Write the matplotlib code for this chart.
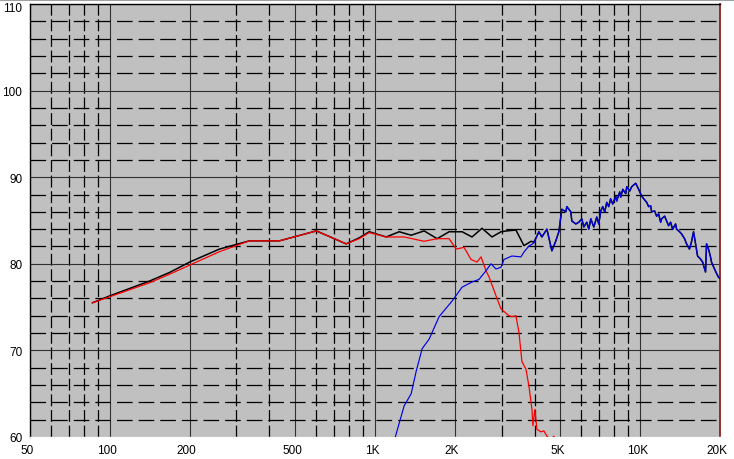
import matplotlib
matplotlib.use('Agg')
import matplotlib.pyplot as plt
from matplotlib.ticker import FixedLocator, NullFormatter, FixedFormatter
from matplotlib.transforms import ScaledTranslation
from matplotlib.lines import Line2D

# ---- data ----
# summed response (black) up to where it merges with the tweeter curve
sum_freq = [86, 100, 141, 168, 200, 259, 336, 436, 601, 779, 872, 951, 1102,
            1234, 1369, 1532, 1715, 1903, 2130, 2322, 2533, 2762, 2986, 3145,
            3400, 3644, 3880, 3974]
sum_db = [75.5, 76.3, 78.0, 79.0, 80.2, 81.7, 82.65, 82.65, 83.8, 82.3, 83.0,
          83.7, 83.1, 83.7, 83.3, 83.8, 82.9, 83.7, 83.7, 83.1, 84.1, 83.1,
          83.7, 83.8, 83.9, 82.1, 82.6, 82.5]

# woofer (red)
woofer_freq = [86, 100, 141, 168, 200, 259, 336, 436, 601, 779, 872, 951, 1102,
               1288, 1532, 1715, 1903, 2022, 2167, 2302, 2425, 2511, 2622,
               2691, 2860, 2986, 3200, 3284, 3400, 3490, 3582, 3708, 3805,
               3907, 3940, 4008, 4079, 4222, 4334, 4449, 4600, 4726, 4900]
woofer_db = [75.5, 76.2, 77.8, 78.8, 79.85, 81.4, 82.65, 82.65, 83.8, 82.3,
             82.9, 83.6, 83.1, 83.1, 82.6, 82.9, 82.9, 81.7, 81.9, 80.5, 80.2,
             80.8, 79.2, 78.5, 76.3, 74.8, 74.0, 73.9, 74.0, 72.1, 68.7, 67.85,
             65.9, 63.2, 61.3, 63.2, 60.9, 60.6, 60.7, 60.1, 59.6, 60.1, 58.5]

# tweeter (blue)
tweeter_freq = [1180, 1288, 1369, 1430, 1506, 1600, 1745, 1953, 2130, 2322,
                2467, 2622, 2738, 2860, 2986, 3064, 3284, 3551, 3644, 3805,
                3974, 4150, 4260, 4449, 4645, 4808, 4935, 5065, 5245, 5289,
                5476, 5523, 5719, 5869, 6024, 6128, 6290, 6400, 6512, 6684,
                6860, 6979, 7101, 7225, 7352, 7480, 7611, 7735, 7879, 8089,
                8157, 8372, 8445, 8596, 8821, 8899, 9129, 9289, 9617, 9870,
                10131, 10579, 10763, 10952, 11047, 11338, 11536, 11738, 11943,
                12049, 12364, 12580, 12800, 13024, 13252, 13600, 13719, 14079,
                14327, 14703, 14961, 15338, 15604, 15895, 16179, 16459, 16890,
                17192, 17641, 17797, 18102, 18418, 18578, 19067, 19401, 19739,
                20000]
tweeter_db = [59.5, 63.6, 65.0, 67.6, 70.2, 71.3, 73.9, 75.7, 77.3, 77.9,
              78.2, 79.2, 80.0, 79.4, 79.6, 80.5, 80.9, 80.8, 81.35, 82.05,
              82.4, 83.7, 83.1, 84.0, 81.5, 82.65, 83.7, 86.3, 86.0, 86.6,
              86.0, 84.95, 84.6, 84.8, 85.2, 84.25, 84.8, 84.0, 85.2, 84.25,
              85.4, 84.6, 86.1, 86.6, 86.0, 87.1, 86.6, 87.5, 86.9, 87.8,
              87.25, 88.3, 87.7, 88.6, 88.1, 88.9, 88.4, 88.9, 89.3, 88.6,
              87.8, 87.1, 86.6, 86.7, 86.0, 86.1, 85.5, 85.75, 84.8,
              85.2, 85.5, 84.95, 84.4, 84.8, 84.0, 84.6, 84.0, 83.7,
              83.45, 82.9, 82.3, 81.7, 82.5, 83.7, 82.3, 80.9, 80.55,
              80.2, 79.05, 82.3, 81.7, 80.8, 80.2, 79.4, 78.9, 78.45,
              78.3]

x_major = [50, 100, 200, 500, 1000, 2000, 5000, 10000, 20000]
x_labels = ['50', '100', '200', '500', '1K', '2K', '5K', '10K', '20K']
x_minor = [60, 70, 80, 90, 300, 400, 600, 700, 800, 900, 3000, 4000,
           6000, 7000, 8000, 9000]
y_major = [60, 70, 80, 90, 100, 110]
y_labels = ['60', '70', '80', '90', '100', '110']
y_minor = [62, 64, 66, 68, 72, 74, 76, 78, 82, 84, 86, 88, 92, 94, 96, 98,
           102, 104, 106, 108]

# ---- figure ----
W, H = 734, 460
fig = plt.figure(figsize=(W / 100, H / 100), dpi=100)
fig.patch.set_facecolor('white')
ax = fig.add_axes([30 / W, 22 / H, 690 / W, 433 / H])
ax.set_facecolor('#C0C0C0')
ax.set_xscale('log')
ax.set_xlim(50, 20000)
ax.set_ylim(60, 110)

ax.xaxis.set_major_locator(FixedLocator(x_major))
ax.xaxis.set_major_formatter(FixedFormatter(x_labels))
ax.xaxis.set_minor_locator(FixedLocator(x_minor))
ax.xaxis.set_minor_formatter(NullFormatter())
ax.yaxis.set_major_locator(FixedLocator(y_major))
ax.yaxis.set_major_formatter(FixedFormatter(y_labels))
ax.yaxis.set_minor_locator(FixedLocator(y_minor))
ax.yaxis.set_minor_formatter(NullFormatter())

ax.set_axisbelow(True)
ax.xaxis.grid(True, which='major', color='#303030', lw=0.8, ls='-')
ax.yaxis.grid(True, which='major', color='#303030', lw=0.8, ls='-')
ax.xaxis.grid(True, which='minor', color='black', lw=0.9, ls=(0, (9.5, 3.0)))
ax.yaxis.grid(True, which='minor', color='black', lw=0.9, ls=(0, (12.5, 4.8)))

ax.tick_params(which='both', length=0)
ax.tick_params(axis='x', pad=5, labelsize=8.5)
ax.tick_params(axis='y', pad=5.5, labelsize=8.5)
for lab in ax.get_xticklabels() + ax.get_yticklabels():
    lab.set_fontfamily('Liberation Sans')
for lab in ax.get_xticklabels():
    lab.set_transform(lab.get_transform() + ScaledTranslation(-3 / 100, 0, fig.dpi_scale_trans))
ylabs = ax.get_yticklabels()
ylabs[-1].set_transform(ylabs[-1].get_transform() + ScaledTranslation(0, -2.5 / 100, fig.dpi_scale_trans))

# curves
sum_full_freq = sum_freq + [f for f in tweeter_freq if f >= 4150]
sum_full_db = sum_db + [d for f, d in zip(tweeter_freq, tweeter_db) if f >= 4150]
ax.plot(sum_full_freq, sum_full_db, color='black', lw=1.1, zorder=3)
ax.plot(woofer_freq, woofer_db, color='#FF0000', lw=0.9, zorder=4)
ax.plot(tweeter_freq, tweeter_db, color='#0000E8', lw=0.85, zorder=5)

for side, col, lw in [('left', 'black', 1.0), ('top', 'black', 1.0),
                      ('bottom', 'white', 1.0), ('right', '#902020', 1.3)]:
    ax.spines[side].set_color(col)
    ax.spines[side].set_linewidth(lw)

fig.add_artist(Line2D([0, 1], [1 - 1 / H, 1 - 1 / H], transform=fig.transFigure,
                      color='#A0A0A0', lw=1.5))

fig.savefig('out.png', dpi=100)
